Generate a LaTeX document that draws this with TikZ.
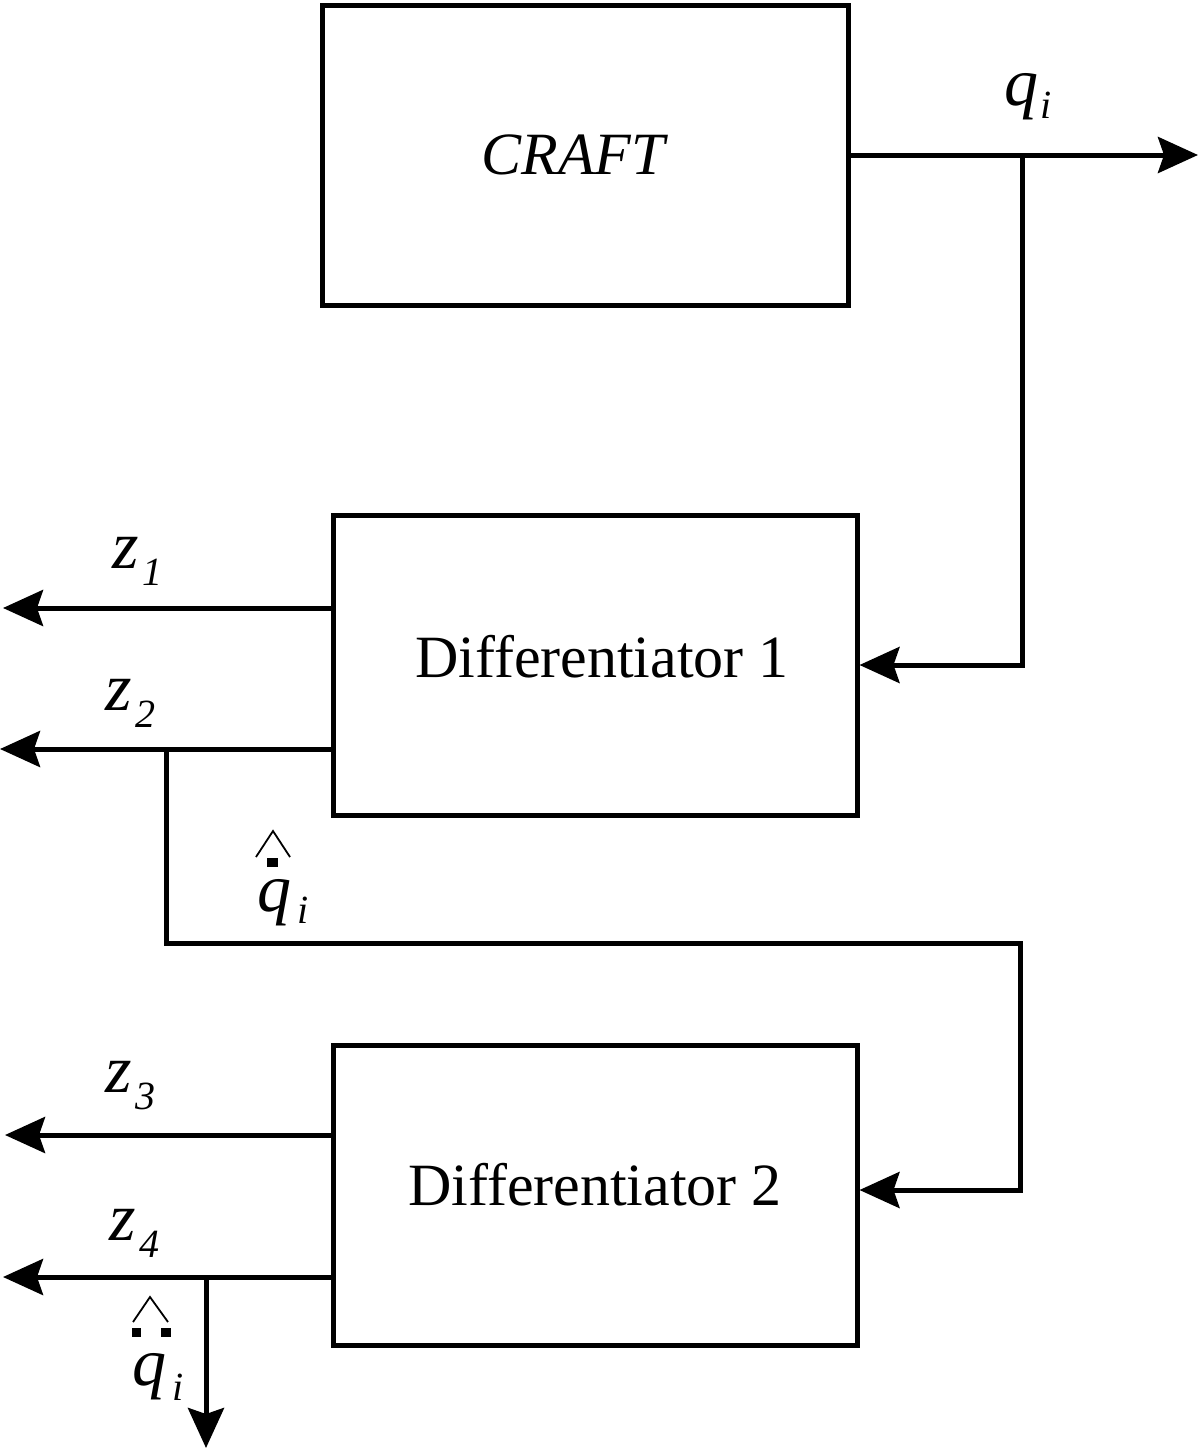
\documentclass[tikz,border=0pt]{standalone}
\usepackage{fontspec}
\setmainfont{Liberation Serif}
\usetikzlibrary{arrows.meta}
\newcommand\lsub[3][1pt]{\hspace{#1}\raisebox{#2}{\fontsize{20}{24}\selectfont\itshape #3}}
\newcommand\shifttext[3]{\raisebox{#2}[\height][\depth]{\hspace*{#1}#3\hspace*{-#1}}}
\begin{document}
\begin{tikzpicture}[x=0.5pt,y=-0.5pt,
  line width=2.5pt,
  blk/.style={draw,line width=2.5pt,minimum width=262pt,minimum height=150pt,inner sep=0pt,font=\fontsize{30}{36}\selectfont},
  arr/.style={-{Stealth[length=20pt,width=18pt,inset=3pt]}},
  lab/.style={anchor=base west,inner sep=0pt,font=\fontsize{34}{40}\selectfont\itshape},
  acc/.style={line width=0.9pt},
  dotsq/.style={fill=black,draw=none},
]
\useasboundingbox (0,0) rectangle (1200,1451);

\node[blk,minimum width=263pt] (c) at (585,155) {\shifttext{-6pt}{0pt}{\itshape CRAFT}};
\node[blk] (d1) at (595,665) {\shifttext{3.5pt}{4pt}{Differentiator 1}};
\node[blk] (d2) at (595,1195) {\shifttext{0pt}{5pt}{Differentiator 2}};

\coordinate (qout) at (1198,155);
\coordinate (j1) at (1022,155);
\coordinate (z1e) at (3,608);
\coordinate (z2e) at (0,749);
\coordinate (j2) at (166,749);
\coordinate (fb2a) at (1020,943);
\coordinate (fb2b) at (1020,1190);
\coordinate (z3e) at (5,1135);
\coordinate (z4e) at (3,1277);
\coordinate (j3) at (206,1277);
\coordinate (qdd) at (206,1448);

\draw[arr] (c.east) -- (qout);
\draw[arr] (j1) |- (d1.east);
\draw[arr] (d1.west |- z1e) -- (z1e);
\draw[arr] (d1.west |- z2e) -- (z2e);
\draw[arr] (j2) |- (fb2a) |- (d2.east |- fb2b);
\draw[arr] (d2.west |- z3e) -- (z3e);
\draw[arr] (d2.west |- z4e) -- (z4e);
\draw[arr] (j3) -- (qdd);

\node[lab] (lq) at (1002,105) {q\lsub{-6.5pt}{i}};
\node[lab] (lz1) at (110,568) {z\lsub[2pt]{-8.5pt}{1}};
\node[lab] (lz2) at (103,710) {z\lsub[2pt]{-8.5pt}{2}};
\node[lab] (lz3) at (103,1092) {z\lsub[2pt]{-8.5pt}{3}};
\node[lab] (lz4) at (107,1240) {z\lsub[2pt]{-8.5pt}{4}};

\node[lab] (lqd) at (255,911) {q\lsub[3pt]{-6pt}{i}};
\draw[acc] (256,857) -- (273,831) -- (290,857);
\fill[dotsq] (267,858) rectangle (278,867);

\node[lab] (lqdd) at (130,1385) {q\lsub[3pt]{-7.5pt}{i}};
\draw[acc] (133,1322) -- (150,1297) -- (168,1322);
\fill[dotsq] (132,1328) rectangle (141,1337);
\fill[dotsq] (161,1328) rectangle (171,1337);
\end{tikzpicture}
\end{document}
